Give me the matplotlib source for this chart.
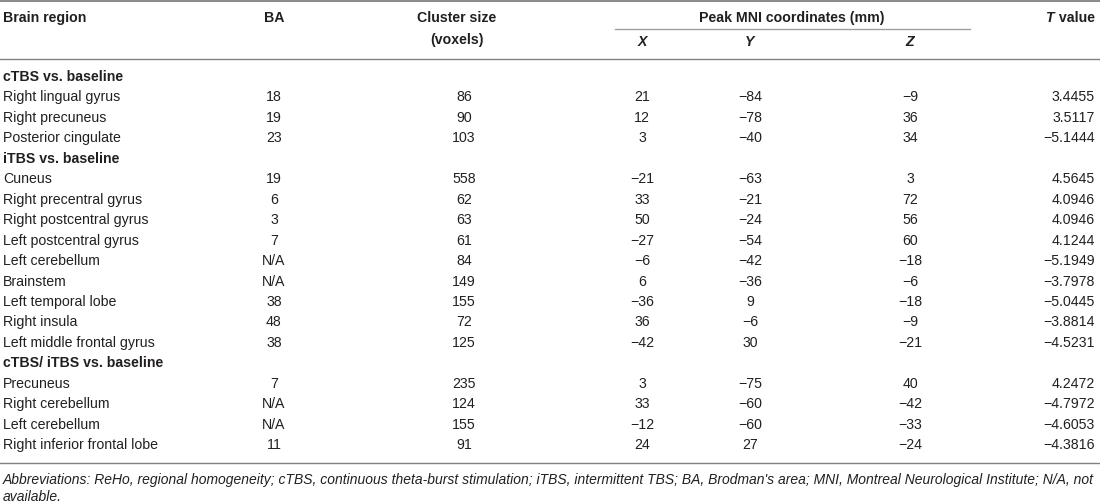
import matplotlib.pyplot as plt

plt.rcParams['font.family'] = ['Liberation Sans', 'DejaVu Sans']

# Table data
groups = ['cTBS vs. baseline', 'iTBS vs. baseline', 'cTBS/ iTBS vs. baseline']
regions = [
    ['Right lingual gyrus', 'Right precuneus', 'Posterior cingulate'],
    ['Cuneus', 'Right precentral gyrus', 'Right postcentral gyrus',
     'Left postcentral gyrus', 'Left cerebellum', 'Brainstem',
     'Left temporal lobe', 'Right insula', 'Left middle frontal gyrus'],
    ['Precuneus', 'Right cerebellum', 'Left cerebellum',
     'Right inferior frontal lobe'],
]
ba = [
    ['18', '19', '23'],
    ['19', '6', '3', '7', 'N/A', 'N/A', '38', '48', '38'],
    ['7', 'N/A', 'N/A', '11'],
]
cluster = [
    [86, 90, 103],
    [558, 62, 63, 61, 84, 149, 155, 72, 125],
    [235, 124, 155, 91],
]
mni_x = [
    [21, 12, 3],
    [-21, 33, 50, -27, -6, 6, -36, 36, -42],
    [3, 33, -12, 24],
]
mni_y = [
    [-84, -78, -40],
    [-63, -21, -24, -54, -42, -36, 9, -6, 30],
    [-75, -60, -60, 27],
]
mni_z = [
    [-9, 36, 34],
    [3, 72, 56, 60, -18, -6, -18, -9, -21],
    [40, -42, -33, -24],
]
t_value = [
    [3.4455, 3.5117, -5.1444],
    [4.5645, 4.0946, 4.0946, 4.1244, -5.1949, -3.7978, -5.0445, -3.8814, -4.5231],
    [4.2472, -4.7972, -4.6053, -4.3816],
]
footnote = ["Abbreviations: ReHo, regional homogeneity; cTBS, continuous theta-burst "
            "stimulation; iTBS, intermittent TBS; BA, Brodman's area; MNI, Montreal "
            "Neurological Institute; N/A, not",
            "available."]

TXT = '#231f20'
LINE = '#808080'
FS = 10.2


def fmt(v):
    return str(v).replace('-', '\u2212')


fig = plt.figure(figsize=(11, 5.03), dpi=100)
ax = fig.add_axes([0, 0, 1, 1])
ax.set_xlim(0, 1100)
ax.set_ylim(503, 0)
ax.axis('off')
r = fig.canvas.get_renderer()

# column anchors
x_left, x_ba, x_cl, x_x, x_y, x_z, x_t = 3, 274, 464, 642, 750, 910, 1095

# rules
ax.plot([0, 1100], [1, 1], color=LINE, lw=1.3)
ax.plot([615, 970], [29, 29], color='#a0a0a0', lw=1)
ax.plot([0, 1100], [59, 59], color=LINE, lw=1)
ax.plot([0, 1100], [463, 463], color=LINE, lw=1)

# header
hk = dict(fontsize=FS, fontweight='bold', color=TXT, va='center')
ax.text(x_left, 18, 'Brain region', ha='left', **hk)
ax.text(x_ba, 18, 'BA', ha='center', **hk)
ax.text(457, 18, 'Cluster size', ha='center', **hk)
ax.text(457, 40, '(voxels)', ha='center', **hk)
ax.text(792, 18, 'Peak MNI coordinates (mm)', ha='center', **hk)
for xx, lab in [(x_x, 'X'), (x_y, 'Y'), (x_z, 'Z')]:
    ax.text(xx, 42, lab, ha='center', style='italic', **hk)
tv = ax.text(x_t, 18, ' value', ha='right', **hk)
w = tv.get_window_extent(r).width
ax.text(x_t - w, 18, 'T', ha='right', style='italic', **hk)

# body
y0, dy = 77, 20.45
row = 0
bk = dict(fontsize=FS, color=TXT, va='center')
for g in range(len(groups)):
    ax.text(x_left, y0 + row * dy, groups[g], ha='left', fontweight='bold', **bk)
    row += 1
    for i in range(len(regions[g])):
        y = y0 + row * dy
        ax.text(x_left, y, regions[g][i], ha='left', **bk)
        ax.text(x_ba, y, ba[g][i], ha='center', **bk)
        ax.text(x_cl, y, fmt(cluster[g][i]), ha='center', **bk)
        ax.text(x_x, y, fmt(mni_x[g][i]), ha='center', **bk)
        ax.text(x_y, y, fmt(mni_y[g][i]), ha='center', **bk)
        ax.text(x_z, y, fmt(mni_z[g][i]), ha='center', **bk)
        ax.text(x_t, y, fmt(f'{t_value[g][i]:.4f}'), ha='right', **bk)
        row += 1

# footnote, sized so the first line runs to the right edge
fn = ax.text(x_left, 480, footnote[0], ha='left', va='center', fontsize=9.0,
             style='italic', color=TXT)
fw = fn.get_window_extent(r).width
fsz = 9.0 * (x_t - x_left) / fw
fn.set_fontsize(fsz)
ax.text(x_left, 497, footnote[1], ha='left', va='center', fontsize=fsz,
        style='italic', color=TXT)

fig.savefig('out.png', dpi=100)
